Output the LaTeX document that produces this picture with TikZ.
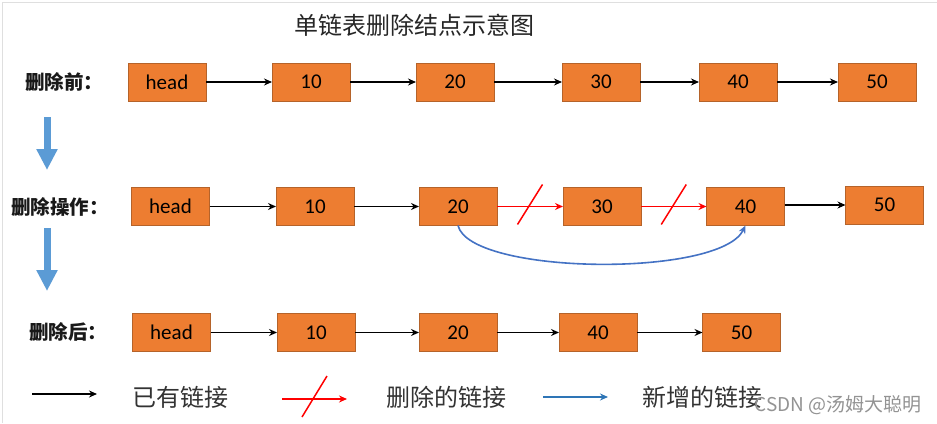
\documentclass[tikz,border=0pt]{standalone}
\usepackage{fontspec}
\setmainfont{Carlito}
\newfontfamily\cjk{Noto Sans CJK SC}
\usetikzlibrary{arrows.meta,calc}
\definecolor{boxfill}{HTML}{ED7D31}
\definecolor{boxline}{HTML}{B5632A}
\definecolor{flowblue}{HTML}{5B9BD5}
\definecolor{curveblue}{HTML}{4472C4}
\definecolor{legblue}{HTML}{2E75B6}
\definecolor{txtgray}{HTML}{333333}
\tikzset{
  nodebox/.style={draw=boxline, fill=boxfill, line width=0.8pt, minimum width=78pt, minimum height=38pt, inner sep=0pt, outer sep=0pt, font=\fontsize{21}{21}\selectfont, text=black},
  link/.style={line width=1.7pt, -{Stealth[length=8pt,width=7pt]}},
  dellink/.style={red, line width=1.7pt, -{Stealth[length=8pt,width=7pt]}},
  slash/.style={red, line width=1.5pt},
  newlink/.style={curveblue, line width=1.6pt, -{Stealth[length=8pt,width=7pt]}},
  downarrow/.style={flowblue, line width=7pt, -{Triangle[length=21pt,width=20pt]}},
  rowlabel/.style={font=\cjk\bfseries\fontsize{19.5}{20}\selectfont, text=black!90, inner sep=0pt},
  legtext/.style={font=\cjk\fontsize{24}{24}\selectfont, text=txtgray, inner sep=0pt},
}
\begin{document}
\begin{tikzpicture}[x=1pt,y=-1pt]
\useasboundingbox (0,0) rectangle (937,423);
\fill[white] (0,0) rectangle (937,423);
\draw[gray!25, line width=1pt] (2,423) -- (2,2) -- (937,2);

% title
\node[legtext, text=black!85] (title) at (414,25) {单链表删除结点示意图};

% row labels
\node[rowlabel] (lab1) at (64,82) {删除前：};
\node[rowlabel] (lab2) at (60,207) {删除操作：};
\node[rowlabel] (lab3) at (68,332) {删除后：};

% down arrows
\coordinate (d1s) at (47,117); \coordinate (d1e) at (47,170);
\coordinate (d2s) at (47,228); \coordinate (d2e) at (47,291);
\draw[downarrow] (d1s) -- (d1e);
\draw[downarrow] (d2s) -- (d2e);

% row 1
\node[nodebox] (a0) at (167,82) {head};
\node[nodebox] (a1) at (311,82) {10};
\node[nodebox] (a2) at (455,82) {20};
\node[nodebox] (a3) at (601,82) {30};
\node[nodebox] (a4) at (738,82) {40};
\node[nodebox] (a5) at (877,82) {50};
\draw[link] (a0) -- (a1);
\draw[link] (a1) -- (a2);
\draw[link] (a2) -- (a3);
\draw[link] (a3) -- (a4);
\draw[link] (a4) -- (a5);

% row 2
\node[nodebox] (b0) at (170.5,206.5) {head};
\node[nodebox] (b1) at (315,206.5) {10};
\node[nodebox] (b2) at (458,206.5) {20};
\node[nodebox] (b3) at (602,206.5) {30};
\node[nodebox] (b4) at (745.5,206.5) {40};
\node[nodebox] (b5) at (884.5,205) {50};
\draw[link] (b0) -- (b1);
\draw[link] (b1) -- (b2);
\draw[dellink] (b2) -- (b3);
\draw[dellink] (b3) -- (b4);
\draw[link] (b4.east |- b5.west) -- (b5.west);
\draw[slash] ($(b2.east)!0.5!(b3.west)+(-12.5,18)$) -- ($(b2.east)!0.5!(b3.west)+(12.5,-22)$);
\draw[slash] ($(b3.east)!0.5!(b4.west)+(-12.5,18)$) -- ($(b3.east)!0.5!(b4.west)+(12.5,-22)$);
\draw[newlink] (b2.south) .. controls (470,275) and (720,278) .. (b4.south);

% row 3
\node[nodebox] (c0) at (171.5,332.5) {head};
\node[nodebox] (c1) at (316,332.5) {10};
\node[nodebox] (c2) at (458,332.5) {20};
\node[nodebox] (c4) at (598,332.5) {40};
\node[nodebox] (c5) at (741.5,332.5) {50};
\draw[link] (c0) -- (c1);
\draw[link] (c1) -- (c2);
\draw[link] (c2) -- (c4);
\draw[link] (c4) -- (c5);

% legend
\coordinate (l1a) at (32,394); \coordinate (l1b) at (97,394);
\draw[link] (l1a) -- (l1b);
\node[legtext] (t1) at (180,397) {已有链接};
\coordinate (l2a) at (282,399); \coordinate (l2b) at (347,399);
\draw[dellink] (l2a) -- (l2b);
\coordinate (s2a) at (302,417); \coordinate (s2b) at (327,376);
\draw[slash] (s2a) -- (s2b);
\node[legtext] (t2) at (446,397) {删除的链接};
\coordinate (l3a) at (543,397); \coordinate (l3b) at (608,397);
\draw[legblue, line width=1.7pt, -{Stealth[length=8pt,width=7pt]}] (l3a) -- (l3b);
\node[legtext] (t3) at (702,397) {新增的链接};

% watermark
\node[font=\cjk\fontsize{19}{19}\selectfont, text=gray!85, anchor=east, inner sep=0pt] (wm) at (922,405) {CSDN @汤姆大聪明};
\end{tikzpicture}
\end{document}
